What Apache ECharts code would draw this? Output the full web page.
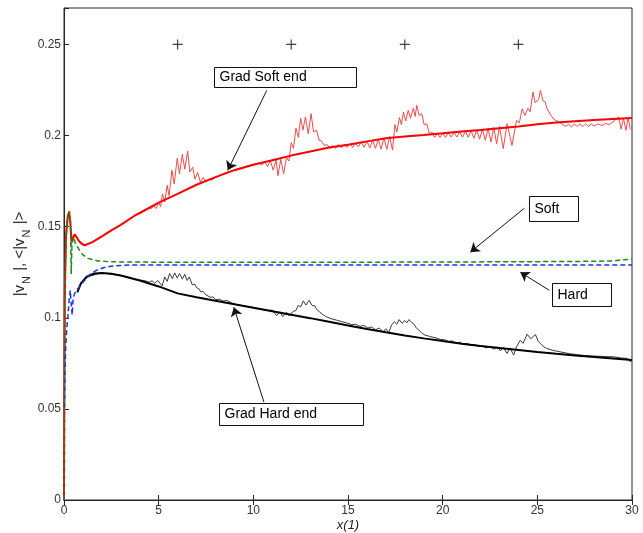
<!DOCTYPE html>
<html>
<head>
<meta charset="utf-8">
<script src="https://cdn.jsdelivr.net/npm/echarts@6/dist/echarts.min.js"></script>
<style>html,body{margin:0;padding:0;background:#fff}#c{width:643px;height:533px}</style>
</head>
<body>
<div id="c"></div>
<script>
// ---- data (x, value) ----
const xTicks = [0, 5, 10, 15, 20, 25, 30];
const yTicks = [0, 0.05, 0.1, 0.15, 0.2, 0.25];

const redThick = [[0,0],[0.04,0.11],[0.1,0.145],[0.2,0.156],[0.27,0.158],[0.33,0.153],[0.4,0.142],[0.47,0.143],[0.56,0.1458],[0.65,0.1445],[0.8,0.142],[0.95,0.1405],[1.1,0.1398],[1.5,0.1415],[2,0.1447],[2.5,0.148],[3,0.151],[3.73,0.156],[4,0.1575],[5,0.1632],[6,0.168],[7,0.173],[8,0.1772],[9,0.181],[10,0.184],[11,0.1865],[12,0.189],[13,0.1912],[14,0.1935],[15,0.195],[16,0.1968],[17,0.1985],[18,0.1995],[19,0.2003],[20,0.2012],[21,0.2022],[22,0.203],[23,0.204],[24,0.205],[25,0.2062],[26,0.2071],[27,0.2078],[28,0.2085],[29,0.2091],[30,0.2096]];

const redThin = [[0,0],[0.05,0.12],[0.15,0.15],[0.25,0.158],[0.32,0.154],[0.38,0.14],[0.45,0.142],[0.55,0.1458],[0.75,0.1425],[1.1,0.1398],[1.5,0.1415],[2,0.1447],[2.5,0.148],[3,0.151],[3.5,0.1545],[3.8,0.1568],[4,0.1572],[4.15,0.1585],[4.3,0.1588],[4.45,0.16],[4.6,0.1598],[4.75,0.1615],[4.85,0.16],[5,0.163],[5.1,0.161],[5.2,0.168],[5.32,0.1635],[5.45,0.1727],[5.55,0.167],[5.7,0.181],[5.82,0.1735],[5.98,0.1875],[6.1,0.179],[6.25,0.1897],[6.38,0.1815],[6.53,0.1915],[6.65,0.18],[6.8,0.1826],[6.92,0.176],[7.06,0.1798],[7.2,0.1745],[7.35,0.177],[7.5,0.1745],[7.65,0.176],[7.8,0.1755],[8,0.177],[8.5,0.1795],[9,0.1812],[9.5,0.1828],[10,0.1842],[10.3,0.185],[10.45,0.1838],[10.6,0.1858],[10.75,0.183],[10.9,0.1862],[11.05,0.181],[11.2,0.1866],[11.3,0.178],[11.45,0.187],[11.6,0.179],[11.75,0.1878],[11.88,0.186],[12,0.196],[12.12,0.193],[12.25,0.204],[12.38,0.199],[12.5,0.2095],[12.62,0.203],[12.75,0.2102],[12.9,0.201],[13.05,0.212],[13.18,0.202],[13.34,0.2029],[13.47,0.1975],[13.6,0.197],[13.75,0.1945],[13.88,0.1952],[14.05,0.193],[14.2,0.1945],[14.35,0.193],[14.5,0.195],[14.65,0.1932],[14.8,0.1952],[14.95,0.1935],[15.1,0.1955],[15.25,0.1935],[15.4,0.1958],[15.55,0.1938],[15.7,0.1965],[15.85,0.1935],[16,0.197],[16.15,0.1932],[16.3,0.1975],[16.45,0.193],[16.6,0.198],[16.75,0.1925],[16.9,0.1988],[17.05,0.1925],[17.2,0.1995],[17.35,0.192],[17.48,0.206],[17.58,0.202],[17.72,0.21],[17.82,0.206],[17.93,0.2129],[18.05,0.208],[18.18,0.2138],[18.3,0.2095],[18.45,0.215],[18.55,0.2105],[18.63,0.2166],[18.76,0.211],[18.9,0.212],[19.02,0.206],[19.16,0.2065],[19.3,0.201],[19.43,0.2019],[19.58,0.199],[19.72,0.2012],[19.86,0.199],[20,0.2012],[20.15,0.199],[20.3,0.2015],[20.45,0.1992],[20.6,0.2018],[20.75,0.1992],[20.9,0.202],[21.05,0.199],[21.2,0.2025],[21.35,0.199],[21.5,0.2028],[21.65,0.1985],[21.8,0.203],[21.95,0.198],[22.1,0.2035],[22.25,0.1975],[22.4,0.204],[22.55,0.1965],[22.7,0.2045],[22.85,0.1955],[23,0.205],[23.2,0.1928],[23.4,0.2065],[23.66,0.1946],[23.9,0.2083],[24.05,0.207],[24.2,0.2147],[24.35,0.211],[24.5,0.215],[24.62,0.213],[24.77,0.2239],[24.88,0.218],[24.98,0.2184],[25.08,0.22],[25.16,0.2248],[25.3,0.219],[25.42,0.2184],[25.5,0.215],[25.6,0.2147],[25.75,0.2105],[25.95,0.2083],[26.1,0.2078],[26.2,0.2074],[26.35,0.206],[26.5,0.205],[26.65,0.2062],[26.8,0.2048],[26.95,0.2062],[27.1,0.205],[27.25,0.2064],[27.4,0.205],[27.55,0.2064],[27.7,0.205],[27.85,0.2064],[28,0.2052],[28.2,0.2064],[28.4,0.2055],[28.6,0.2066],[28.8,0.206],[29,0.2075],[29.15,0.209],[29.3,0.2102],[29.42,0.2035],[29.55,0.2095],[29.68,0.2029],[29.8,0.21],[29.9,0.204],[30,0.2029]];

const softDashed = [[0,0],[0.03,0.1],[0.1,0.142],[0.2,0.155],[0.28,0.1586],[0.34,0.153],[0.38,0.124],[0.42,0.14],[0.5,0.1444],[0.6,0.141],[0.82,0.137],[1,0.1345],[1.26,0.1326],[1.79,0.1312],[2.5,0.1307],[5,0.1305],[10,0.1305],[15,0.1305],[20,0.1306],[25,0.1308],[28,0.131],[29,0.1312],[29.5,0.1318],[30,0.1322]];

const hardDashed = [[0.02,0.051],[0.05,0.07],[0.08,0.082],[0.15,0.095],[0.2,0.1],[0.28,0.111],[0.33,0.115],[0.38,0.108],[0.43,0.1015],[0.48,0.11],[0.55,0.113],[0.65,0.115],[0.82,0.117],[1,0.1195],[1.17,0.1215],[1.4,0.124],[1.7,0.126],[2,0.1272],[2.4,0.1282],[3,0.1287],[3.6,0.129],[10,0.129],[20,0.129],[30,0.129]];

const blackThick = [[0.7,0.114],[0.9,0.119],[1.2,0.1225],[1.6,0.1243],[2,0.1246],[2.5,0.1242],[3,0.1232],[4,0.1205],[5,0.1172],[6,0.1134],[7,0.1113],[8,0.1093],[9,0.1074],[10,0.1055],[11,0.1036],[12,0.1017],[13,0.0998],[14,0.0978],[15,0.0958],[16,0.0938],[17,0.092],[18,0.0903],[19,0.0887],[20,0.0872],[21,0.0858],[22,0.0845],[23,0.0834],[24,0.0823],[25,0.0812],[26,0.0802],[27,0.0793],[28,0.0785],[29,0.0777],[30,0.0768]];

const blackThin = [[0.8,0.1175],[1.2,0.1225],[2,0.1246],[3,0.1232],[4,0.1207],[4.3,0.1203],[4.5,0.1195],[4.65,0.1203],[4.8,0.1188],[4.95,0.1205],[5.05,0.1197],[5.18,0.1175],[5.32,0.1224],[5.45,0.12],[5.58,0.1243],[5.72,0.1215],[5.85,0.1246],[5.98,0.1218],[6.11,0.1243],[6.25,0.1212],[6.38,0.1239],[6.5,0.1205],[6.62,0.1224],[6.78,0.118],[6.9,0.1185],[7,0.1165],[7.12,0.116],[7.22,0.1142],[7.34,0.1145],[7.5,0.1125],[7.6,0.113],[7.75,0.1112],[7.87,0.1115],[8,0.11],[8.2,0.1102],[8.4,0.1092],[8.6,0.1095],[9,0.1075],[9.5,0.1065],[10,0.1056],[10.5,0.1046],[10.8,0.104],[11,0.1042],[11.23,0.1012],[11.4,0.1033],[11.55,0.1006],[11.76,0.103],[11.9,0.101],[12.1,0.1035],[12.25,0.104],[12.37,0.1068],[12.5,0.106],[12.64,0.1093],[12.78,0.107],[12.95,0.1096],[13.1,0.1068],[13.25,0.1065],[13.35,0.1045],[13.5,0.1032],[13.7,0.1015],[13.87,0.1005],[14.1,0.0995],[14.4,0.0987],[14.7,0.0978],[14.93,0.0972],[15.2,0.0962],[15.4,0.0965],[15.63,0.0953],[15.85,0.0958],[16.05,0.0944],[16.25,0.095],[16.45,0.0934],[16.65,0.0944],[16.85,0.0922],[17,0.094],[17.15,0.0918],[17.3,0.096],[17.45,0.0978],[17.58,0.0965],[17.7,0.099],[17.85,0.097],[18,0.0985],[18.1,0.0972],[18.22,0.099],[18.35,0.0975],[18.46,0.0969],[18.6,0.0945],[18.72,0.0935],[18.9,0.0915],[19.07,0.0905],[19.3,0.0898],[19.5,0.0893],[19.7,0.0888],[19.9,0.088],[20.1,0.088],[20.3,0.087],[20.5,0.0873],[20.7,0.0862],[20.9,0.0866],[21.1,0.0855],[21.3,0.086],[21.5,0.0848],[21.7,0.0853],[21.9,0.0842],[22.1,0.0848],[22.3,0.0835],[22.5,0.0843],[22.7,0.0828],[22.9,0.084],[23.05,0.0818],[23.2,0.0838],[23.4,0.0804],[23.55,0.0835],[23.75,0.0795],[23.9,0.084],[24.1,0.0877],[24.25,0.086],[24.46,0.091],[24.65,0.0885],[24.9,0.0908],[25.05,0.087],[25.16,0.086],[25.35,0.084],[25.5,0.0832],[25.8,0.0822],[26.2,0.0813],[26.7,0.0803],[27.3,0.0795],[27.8,0.0791],[28.2,0.0789],[28.6,0.0787],[29,0.0786],[29.4,0.078],[29.75,0.0777],[29.85,0.0785],[29.92,0.0758],[30,0.077]];

const plusX = [6, 12, 18, 24];
const plusY = [0.25, 0.25, 0.25, 0.25];

// annotation texts, box corners and arrow ends in data units
const noteText = ['Grad Soft end', 'Soft', 'Hard', 'Grad Hard end'];
const noteBox = [[[7.91,0.2374],[15.42,0.2264]], [[24.58,0.1667],[27.17,0.153]], [[25.79,0.119],[28.92,0.1064]], [[8.17,0.0532],[15.79,0.0411]]];
const noteArrow = [[[10.71,0.2248],[8.65,0.1809]], [[24.31,0.1601],[21.46,0.136]], [[25.63,0.1151],[24.1,0.125]], [[10.56,0.0537],[8.97,0.1058]]];

const chart = echarts.init(document.getElementById('c'), null, {renderer: 'canvas'});
const FONT = 'Liberation Sans, Arial, sans-serif';
const AX = '#262626';

function lineSeries(data, color, width, dashed, z) {
  return {type: 'line', data: data, showSymbol: false, symbol: 'none', smooth: false,
    lineStyle: {color: color, width: width, type: dashed ? [5, 3] : 'solid'},
    z: z, silent: true, animation: false};
}

const option = {
  animation: false,
  backgroundColor: '#fff',
  grid: {left: 64, right: 11, top: 8, bottom: 33, containLabel: false, outerBoundsMode: 'none',
    show: true, borderColor: AX, borderWidth: 1, backgroundColor: 'transparent'},
  xAxis: [{
    type: 'value', min: 0, max: 30, interval: 5,
    name: 'x(1)', nameLocation: 'middle', nameGap: 19, nameMoveOverlap: false,
    nameTextStyle: {fontFamily: FONT, fontSize: 13, fontStyle: 'italic', color: AX},
    axisLine: {show: true, onZero: false, lineStyle: {color: AX}},
    axisTick: {show: true, inside: true, length: 5, lineStyle: {color: AX}},
    axisLabel: {fontFamily: FONT, fontSize: 12, color: '#333', margin: 5},
    splitLine: {show: false}
  }, {
    type: 'value', min: 0, max: 30, interval: 5, position: 'top',
    axisLine: {show: true, lineStyle: {color: AX}},
    axisTick: {show: true, inside: true, length: 5, lineStyle: {color: AX}},
    axisLabel: {show: false}, splitLine: {show: false}
  }],
  yAxis: [{
    type: 'value', min: 0, max: 0.27, interval: 0.05,
    name: '{t||v}{s|N}{t| |, <|v}{s|N}{t| |>}', nameLocation: 'middle', nameGap: 35, nameMoveOverlap: false,
    nameTextStyle: {fontFamily: FONT, color: AX, rich: {
      t: {fontFamily: FONT, fontSize: 15, lineHeight: 18, color: AX, verticalAlign: 'middle'},
      s: {fontFamily: FONT, fontSize: 11, lineHeight: 18, color: AX, verticalAlign: 'bottom', padding: [0, 1, -3, 1]}
    }},
    axisLine: {show: true, onZero: false, lineStyle: {color: AX}},
    axisTick: {show: true, inside: true, length: 5, lineStyle: {color: AX}},
    axisLabel: {fontFamily: FONT, fontSize: 12, color: '#333', margin: 3,
      formatter: function (v) {
        for (let i = 0; i < yTicks.length; i++) if (Math.abs(yTicks[i] - v) < 1e-9) return String(yTicks[i]);
        return '';
      }},
    splitLine: {show: false}
  }],
  series: [
    lineSeries(redThin, '#f04a4a', 1, false, 2),
    lineSeries(blackThin, '#3a3a3a', 1, false, 2),
    lineSeries(blackThick, '#000000', 2, false, 3),
    lineSeries(redThick, '#ff0000', 2, false, 3),
    lineSeries(hardDashed, '#1f2fe0', 1.5, true, 4),
    lineSeries(softDashed, '#1a8a1a', 1.5, true, 4),
    {type: 'scatter', data: plusX.map((x, i) => [x, plusY[i]]), symbol: 'path://M4.4,0h1.2v4.4h4.4v1.2h-4.4v4.4h-1.2v-4.4h-4.4v-1.2h4.4z', symbolSize: 10,
      itemStyle: {color: '#111'}, silent: true, z: 5},
    {type: 'line', data: [], silent: true, z: 6,
      markLine: {silent: true, animation: false, symbol: ['none', 'arrow'], symbolSize: 9,
        label: {show: false}, lineStyle: {color: '#111', width: 1, type: 'solid'},
        emphasis: {disabled: true},
        data: noteArrow.map(a => [{coord: a[0]}, {coord: a[1]}])}}
  ]
};
chart.setOption(option);

// annotation boxes placed from data coordinates
const graphics = [];
noteText.forEach((t, i) => {
  const p0 = chart.convertToPixel({gridIndex: 0}, noteBox[i][0]);
  const p1 = chart.convertToPixel({gridIndex: 0}, noteBox[i][1]);
  const x = Math.round(p0[0]) + 0.5, y = Math.round(p0[1]) + 0.5;
  const w = Math.round(p1[0] - p0[0]), h = Math.round(p1[1] - p0[1]);
  graphics.push({type: 'rect', shape: {x: x, y: y, width: w, height: h},
    style: {fill: '#fff', stroke: '#111', lineWidth: 1}, z: 100, silent: true});
  graphics.push({type: 'text', x: x + 5, y: y + h / 2,
    style: {text: t, fill: '#000', font: '14px ' + FONT, verticalAlign: 'middle', align: 'left'}, z: 101, silent: true});
});
chart.setOption({graphic: graphics});
</script>
</body>
</html>
